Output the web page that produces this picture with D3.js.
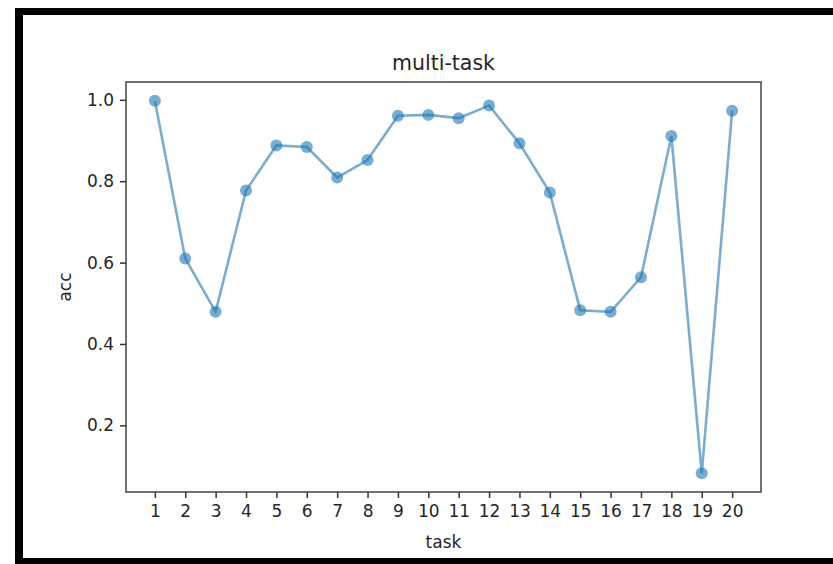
<!DOCTYPE html>
<html>
<head>
<meta charset="utf-8">
<script src="https://cdn.jsdelivr.net/npm/d3@7"></script>
<style>
  body { margin: 0; background: #fff; }
  svg text { font-family: "DejaVu Sans", sans-serif; fill: #262626; }
</style>
</head>
<body>
<div id="chart"></div>
<script>
  // task numbers and accuracy
  var tasks = [1, 2, 3, 4, 5, 6, 7, 8, 9, 10, 11, 12, 13, 14, 15, 16, 17, 18, 19, 20];
  var acc = [0.998, 0.610, 0.479, 0.777, 0.888, 0.884, 0.809, 0.852, 0.961, 0.963,
             0.955, 0.986, 0.893, 0.772, 0.483, 0.479, 0.564, 0.911, 0.082, 0.973];
  var yTicks = [0.2, 0.4, 0.6, 0.8, 1.0];

  var width = 833, height = 564;
  var box = { left: 126, top: 82, right: 761, bottom: 492 };

  var svg = d3.select('#chart').append('svg')
    .attr('width', width)
    .attr('height', height);

  // black frame of the screenshot (left, top, bottom)
  svg.append('rect').attr('x', 15).attr('y', 8).attr('width', 8).attr('height', 556).attr('fill', '#000');
  svg.append('rect').attr('x', 15).attr('y', 8).attr('width', 818).attr('height', 7).attr('fill', '#000');
  svg.append('rect').attr('x', 15).attr('y', 558).attr('width', 818).attr('height', 6).attr('fill', '#000');

  var pad = 0.05 * (20 - 1);
  var x = d3.scaleLinear()
    .domain([1 - pad, 20 + pad])
    .range([box.left, box.right]);

  var yMin = d3.min(acc), yMax = d3.max(acc);
  var yPad = 0.05 * (yMax - yMin);
  var y = d3.scaleLinear()
    .domain([yMin - yPad, yMax + yPad])
    .range([box.bottom, box.top]);

  var xAxis = svg.append('g')
    .attr('transform', 'translate(0,' + box.bottom + ')')
    .call(d3.axisBottom(x).tickValues(tasks).tickFormat(d3.format('d')).tickSize(6).tickPadding(7));

  var yAxis = svg.append('g')
    .attr('transform', 'translate(' + box.left + ',0)')
    .call(d3.axisLeft(y).tickValues(yTicks).tickFormat(d3.format('.1f')).tickSize(6).tickPadding(6));

  [xAxis, yAxis].forEach(function(a) {
    a.select('.domain').remove();
    a.selectAll('.tick line').attr('stroke', '#333').attr('stroke-width', 1.5);
    a.selectAll('.tick text').style('font-size', '17px').attr('fill', '#262626');
  });

  svg.append('rect')
    .attr('x', box.left)
    .attr('y', box.top)
    .attr('width', box.right - box.left)
    .attr('height', box.bottom - box.top)
    .attr('fill', 'none')
    .attr('stroke', '#444')
    .attr('stroke-width', 1.5);

  var line = d3.line()
    .x(function(d, i) { return x(tasks[i]); })
    .y(function(d) { return y(d); });

  svg.append('path')
    .datum(acc)
    .attr('d', line)
    .attr('fill', 'none')
    .attr('stroke', '#1f77b4')
    .attr('stroke-opacity', 0.6)
    .attr('stroke-width', 2.6);

  svg.append('g').selectAll('circle')
    .data(acc)
    .enter()
    .append('circle')
    .attr('cx', function(d, i) { return x(tasks[i]); })
    .attr('cy', function(d) { return y(d); })
    .attr('r', 6)
    .attr('fill', '#1f77b4')
    .attr('fill-opacity', 0.6);

  svg.append('text')
    .attr('x', (box.left + box.right) / 2)
    .attr('y', 70)
    .attr('text-anchor', 'middle')
    .style('font-size', '20.5px')
    .text('multi-task');

  svg.append('text')
    .attr('x', (box.left + box.right) / 2)
    .attr('y', 548)
    .attr('text-anchor', 'middle')
    .style('font-size', '17px')
    .text('task');

  svg.append('text')
    .attr('transform', 'translate(71,' + (box.top + box.bottom) / 2 + ') rotate(-90)')
    .attr('text-anchor', 'middle')
    .style('font-size', '17px')
    .text('acc');
</script>
</body>
</html>
